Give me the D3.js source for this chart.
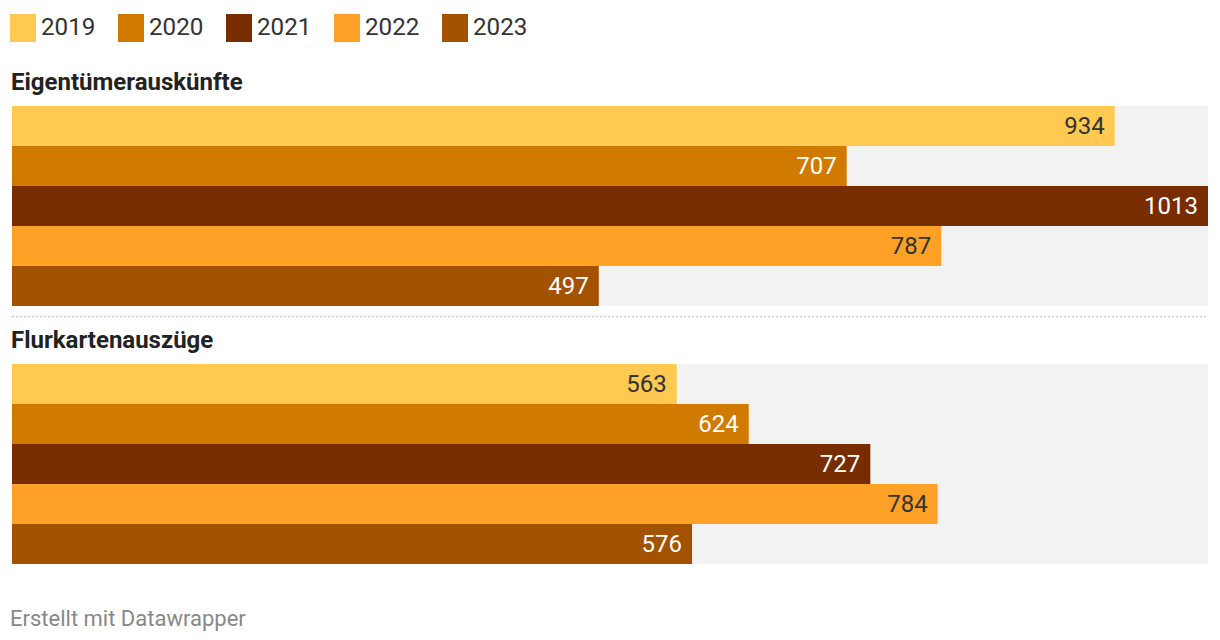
<!DOCTYPE html>
<html><head><meta charset="utf-8">
<script src="https://cdn.jsdelivr.net/npm/d3@7"></script>
<style>
html,body{margin:0;padding:0;background:#fff;}
svg{display:block;font-family:Roboto, "Noto Sans", sans-serif;}
</style></head>
<body>
<svg id="chart" width="1220" height="640"></svg>
<script>
const years = ["2019","2020","2021","2022","2023"];
const colors = ["#ffc952","#d17a00","#782d00","#ffa126","#a35200"];
const labelColors = ["#333333","#ffffff","#ffffff","#333333","#ffffff"];
const groups = ["Eigentümerauskünfte","Flurkartenauszüge"];
const valuesEigentuemer = [934, 707, 1013, 787, 497];
const valuesFlurkarten = [563, 624, 727, 784, 576];
const groupValues = [valuesEigentuemer, valuesFlurkarten];

const svg = d3.select("#chart");
const x = d3.scaleLinear().domain([0, 1013]).range([12, 1208]);
const color = d3.scaleOrdinal().domain(years).range(colors);
const labelColor = d3.scaleOrdinal().domain(years).range(labelColors);

// legend
const leg = svg.append("g");
const li = leg.selectAll("g").data(years).enter().append("g")
  .attr("transform", (d,i)=>`translate(${10 + i*108},14)`);
li.append("rect").attr("width",26).attr("height",28).attr("fill", d=>color(d));
li.append("text").attr("x",31).attr("y",21).attr("font-size",24.2).attr("fill","#333").text(d=>d);

const groupTop = [106, 364];
groups.forEach((g, gi) => {
  const y = d3.scaleBand().domain(years).range([groupTop[gi], groupTop[gi]+200]).padding(0);
  const G = svg.append("g");
  G.append("text").attr("x",11).attr("y",groupTop[gi]-16).attr("font-size",24).attr("font-weight","bold")
    .attr("fill","#222").text(g);
  G.append("rect").attr("x",x(0)).attr("y",groupTop[gi]).attr("width",x(1013)-x(0)).attr("height",200).attr("fill","#f2f2f2");
  const data = years.map((yr,i)=>({year:yr, value:groupValues[gi][i]}));
  G.selectAll("rect.bar").data(data).enter().append("rect").attr("class","bar")
    .attr("x", x(0)).attr("y", d=>y(d.year)).attr("width", d=>x(d.value)-x(0)).attr("height", y.bandwidth())
    .attr("fill", d=>color(d.year));
  G.selectAll("text.val").data(data).enter().append("text").attr("class","val")
    .attr("x", d=>x(d.value)-10).attr("y", d=>y(d.year)+y.bandwidth()/2+8)
    .attr("text-anchor","end").attr("font-size",24).attr("fill", d=>labelColor(d.year)).text(d=>d.value);
});

// separator
svg.append("line").attr("x1",12).attr("x2",1208).attr("y1",316.5).attr("y2",316.5)
  .attr("stroke","#cccccc").attr("stroke-width",1.5).attr("stroke-dasharray","2,2");

svg.append("text").attr("x",10).attr("y",626).attr("font-size",22).attr("fill","#888").text("Erstellt mit Datawrapper");
</script>
</body></html>
